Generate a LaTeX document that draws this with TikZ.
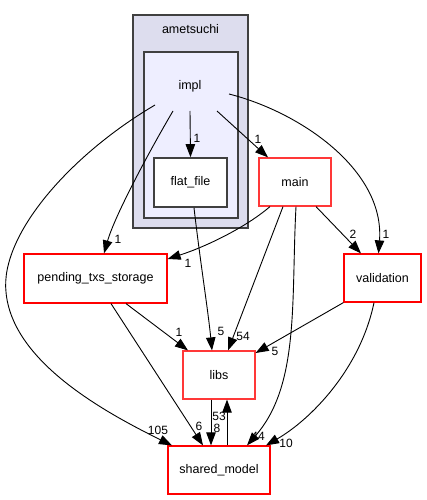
\documentclass[tikz,border=0pt]{standalone}
\usepackage{fontspec}
\setmainfont{Liberation Sans}
\usetikzlibrary{arrows.meta}
\definecolor{outerfill}{HTML}{DDDDEE}
\definecolor{innerfill}{HTML}{EEEEFF}
\definecolor{clborder}{HTML}{404040}
\definecolor{redb}{HTML}{FF0000}
\definecolor{redl}{HTML}{FF3838}
\tikzset{
  box/.style={draw=redb, line width=1.2pt, fill=white, rectangle, inner sep=0pt,
    font=\fontsize{12.5}{14}\selectfont},
  boxl/.style={box, draw=redl},
  plainbox/.style={draw=clborder, line width=1.6pt, fill=white, rectangle, inner sep=0pt,
    font=\fontsize{12.5}{14}\selectfont},
  e/.style={draw=black, line width=0.9pt, -{Triangle[length=13pt,width=9.5pt]}},
  lbl/.style={inner sep=0pt, font=\fontsize{12}{13}\selectfont},
  cl/.style={draw=clborder, line width=1.2pt}
}
\begin{document}
\begin{tikzpicture}[x=1pt,y=-1pt]
\useasboundingbox (0,0) rectangle (427,500);
% clusters
\draw[cl, fill=outerfill] (133,15) rectangle (248,228);
\node[lbl, font=\fontsize{12.5}{14}\selectfont] (amet) at (190.5,29) {ametsuchi};
\draw[cl, fill=innerfill] (144,52) rectangle (238,218);
\node[inner sep=0pt, font=\fontsize{12.5}{14}\selectfont] (impl) at (190,86) {impl};
% nodes
\node[plainbox, minimum width=73pt, minimum height=49pt] (flat) at (190.5,182.5) {flat\_file};
\node[box, minimum width=143pt, minimum height=49pt] (pend) at (95.5,278.5) {pending\_txs\_storage};
\node[boxl, minimum width=72pt, minimum height=48pt] (main) at (295,182) {main};
\node[box, minimum width=77pt, minimum height=48pt] (valid) at (382.5,278) {validation};
\node[boxl, minimum width=72pt, minimum height=48pt] (libs) at (219,375) {libs};
\node[box, minimum width=102pt, minimum height=48pt] (shared) at (219,470) {shared\_model};
% edges from impl
\draw[e] ([shift={(0,25)}]impl.center) -- (flat.north);
\node[lbl] at (197,138) {1};
\draw[e] ([shift={(27,25)}]impl.center) -- ([shift={(-27,0)}]main.north);
\node[lbl] at (258,139) {1};
\draw[e] ([shift={(39,8)}]impl.center) .. controls (300,112) and (385,170) .. ([shift={(-4,0)}]valid.north);
\node[lbl] at (386,234) {1};
\draw[e] ([shift={(-17,25)}]impl.center) .. controls (150,150) and (115,215) .. ([shift={(8.5,0)}]pend.north);
\node[lbl] at (118,239) {1};
\draw[e] ([shift={(-35,19)}]impl.center) .. controls (70,155) and (0,235) .. (6,292) .. controls (12,360) and (100,410) .. ([shift={(-47,0)}]shared.north);
\node[lbl] at (158,430) {105};
% main edges
\draw[e] ([shift={(-25,0)}]main.south) .. controls (245,228) and (205,247) .. ([shift={(0,-19.5)}]pend.east);
\node[lbl] at (188,263) {1};
\draw[e] ([shift={(-12,0)}]main.south) -- ([shift={(9,0)}]libs.north);
\node[lbl] at (243,336) {54};
\draw[e] ([shift={(1,0)}]main.south) .. controls (291,300) and (300,385) .. ([shift={(28,0)}]shared.north);
\node[lbl] at (258,436) {44};
\draw[e] ([shift={(21,0)}]main.south) -- ([shift={(-21.5,0)}]valid.north);
\node[lbl] at (353,234) {2};
% flat_file
\draw[e] ([shift={(3.5,0)}]flat.south) .. controls (200,260) and (208,310) .. ([shift={(-7,0)}]libs.north);
\node[lbl] at (221,331) {5};
% pending
\draw[e] ([shift={(30.5,0)}]pend.south) -- ([shift={(-31,0)}]libs.north);
\node[lbl] at (179,332) {1};
\draw[e] ([shift={(15.5,0)}]pend.south) -- ([shift={(-16,0)}]shared.north);
\node[lbl] at (199,426) {6};
% validation
\draw[e] (valid.south west) -- ([shift={(0,-22)}]libs.east);
\node[lbl] at (275,351) {5};
\draw[e] ([shift={(-8.5,0)}]valid.south) .. controls (360,370) and (310,420) .. ([shift={(47,0)}]shared.north);
\node[lbl] at (286,443) {10};
% libs <-> shared
\draw[e] ([shift={(-8,0)}]libs.south) -- ([shift={(-8,0)}]shared.north);
\node[lbl] at (217,428) {8};
\draw[e] ([shift={(8,0)}]shared.north) -- ([shift={(8,0)}]libs.south);
\node[lbl] at (219,416) {53};
\end{tikzpicture}
\end{document}
